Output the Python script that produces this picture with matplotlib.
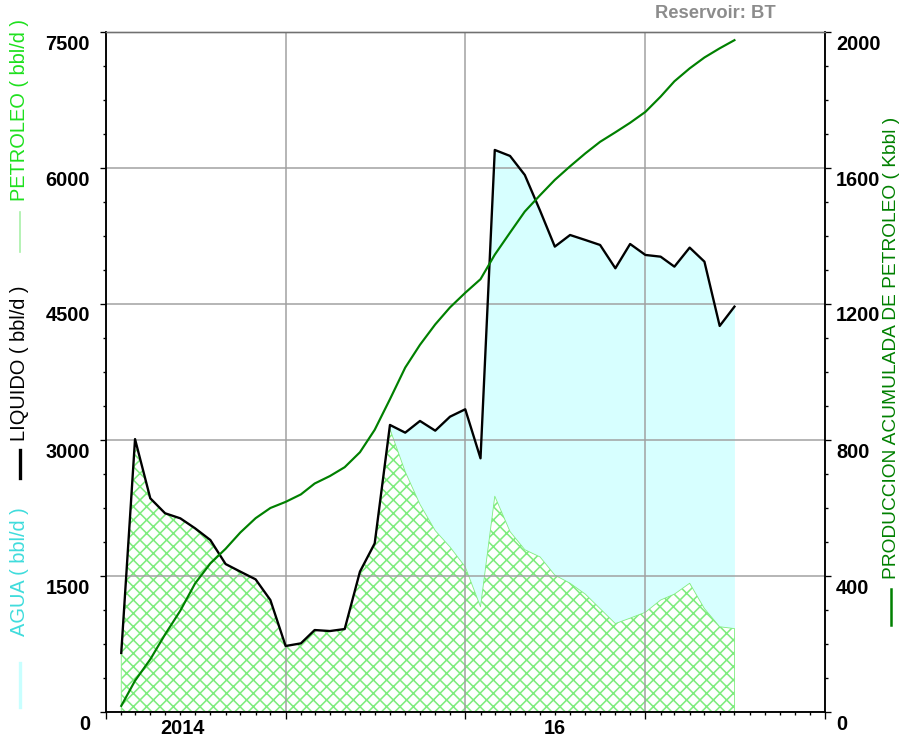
import matplotlib
matplotlib.use("Agg")
import matplotlib.pyplot as plt
import matplotlib.dates as mdates
import matplotlib.transforms as mtransforms
from matplotlib.lines import Line2D
from matplotlib.ticker import MultipleLocator, NullFormatter
import pandas as pd

# monthly data, Feb 2014 -> Jul 2017
fechas = pd.date_range("2014-02-01", periods=42, freq="MS")

liquido = [651, 3010, 2357, 2192, 2136, 2026, 1897, 1632, 1548, 1463, 1235, 728,
           757, 904, 893, 915, 1548, 1860, 3166, 3081, 3210, 3103, 3257, 3339,
           2798, 6199, 6133, 5923, 5530, 5133, 5261, 5206, 5151, 4894, 5162, 5041,
           5022, 4912, 5122, 4967, 4258, 4471]

petroleo = [651, 3010, 2357, 2192, 2136, 2026, 1897, 1632, 1548, 1463, 1235, 728,
            757, 904, 893, 915, 1548, 1860, 3120, 2650, 2290, 2000, 1820, 1600,
            1160, 2380, 1990, 1790, 1710, 1510, 1420, 1300, 1140, 975, 1035, 1100,
            1235, 1300, 1420, 1140, 940, 920]

acumulado = [18, 92, 155, 228, 298, 378, 437, 480, 528, 570, 600, 618,
             640, 672, 694, 720, 764, 830, 920, 1013, 1080, 1140, 1190, 1233,
             1273, 1345, 1410, 1472, 1520, 1565, 1605, 1643, 1677, 1705, 1733, 1765,
             1810, 1855, 1893, 1925, 1952, 1976]

rate_ticks = [0, 1500, 3000, 4500, 6000, 7500]
cum_ticks = [0, 400, 800, 1200, 1600, 2000]
year_labels = ["2014", "16"]
year_label_pos = [pd.Timestamp("2014-06-05"), pd.Timestamp("2016-07-01")]

plt.rcParams["font.family"] = ["Liberation Sans", "DejaVu Sans"]
plt.rcParams["hatch.linewidth"] = 0.95

DPI = 120
W, H = 902, 740
fig = plt.figure(figsize=(W / DPI, H / DPI), dpi=DPI)
ax = fig.add_axes([106 / W, 28 / H, 719 / W, 680 / H])

# areas
ax.fill_between(fechas, petroleo, liquido, color="#d7ffff", linewidth=0, zorder=0.8)
ax.fill_between(fechas, 0, petroleo, facecolor="white", edgecolor="#7eec7e",
                hatch="xxx", linewidth=0.5, zorder=0.9)
ax.plot(fechas, liquido, color="black", lw=1.4, zorder=3)

ax.set_xlim(pd.Timestamp("2014-01-01"), pd.Timestamp("2018-01-01"))
ax.set_ylim(0, 7500)
ax.set_yticks(rate_ticks)
ax.set_yticklabels([str(t) for t in rate_ticks], fontweight="bold")
ax.yaxis.set_minor_locator(MultipleLocator(375))
ax.xaxis.set_major_locator(mdates.YearLocator())
ax.xaxis.set_minor_locator(mdates.MonthLocator())
ax.xaxis.set_major_formatter(NullFormatter())
ax.grid(True, which="major", color="#a0a0a0", lw=0.9)

ax.tick_params(axis="y", which="major", direction="out", length=3.6, width=0.8,
               pad=6, labelsize=12)
ax.tick_params(axis="y", which="minor", direction="out", length=1.8, width=0.8)
ax.tick_params(axis="x", which="major", direction="out", length=4.2, width=0.8)
ax.tick_params(axis="x", which="minor", direction="out", length=1.8, width=0.8)

# cumulative production on right axis
ax2 = ax.twinx()
ax2.plot(fechas, acumulado, color="#008000", lw=1.3)
ax2.set_ylim(0, 2000)
ax2.set_yticks(cum_ticks)
ax2.set_yticklabels([str(t) for t in cum_ticks], fontweight="bold")
ax2.yaxis.set_minor_locator(MultipleLocator(100))
ax2.tick_params(axis="y", which="major", direction="out", length=3.6, width=0.8,
                pad=3, labelsize=12)
ax2.tick_params(axis="y", which="minor", direction="out", length=1.8, width=0.8)

for a in (ax, ax2):
    for s in ["left", "right", "bottom"]:
        a.spines[s].set_color("black")
        a.spines[s].set_linewidth(0.9)
    a.spines["top"].set_color("#707070")

# tick labels sit a bit below their ticks
offset = mtransforms.ScaledTranslation(0, -10 / DPI, fig.dpi_scale_trans)
for lab in ax.get_yticklabels() + ax2.get_yticklabels():
    lab.set_transform(lab.get_transform() + offset)

for lbl, pos in zip(year_labels, year_label_pos):
    ax.text(pos, -0.025, lbl, transform=ax.get_xaxis_transform(), ha="center",
            va="center", fontsize=12, fontweight="bold")

# side labels with their line keys
def fx(x):
    return x / W

def fy(y):
    return 1 - y / H

fig.text(fx(20), fy(110), "PETROLEO ( bbl/d )", rotation=90, ha="center", va="center",
         color="#1ee01e", fontsize=12)
fig.add_artist(Line2D([fx(20), fx(20)], [fy(212), fy(252)], color="#a8f0a8", lw=1.0))
fig.text(fx(20), fy(363), "LIQUIDO ( bbl/d )", rotation=90, ha="center", va="center",
         color="black", fontsize=12)
fig.add_artist(Line2D([fx(20), fx(20)], [fy(450), fy(478)], color="black", lw=2.0))
fig.text(fx(20), fy(572), "AGUA ( bbl/d )", rotation=90, ha="center", va="center",
         color="#3fdcdc", fontsize=12)
fig.add_artist(Line2D([fx(20), fx(20)], [fy(663), fy(707)], color="#c8ffff", lw=2.0))

fig.text(fx(891), fy(348), "PRODUCCION ACUMULADA DE PETROLEO ( Kbbl )", rotation=90,
         ha="center", va="center", color="#008000", fontsize=11.5)
fig.add_artist(Line2D([fx(891), fx(891)], [fy(589), fy(625)], color="#008000", lw=1.5))

fig.text(fx(715), fy(14), "Reservoir: BT", ha="center", va="center", color="#8c8c8c",
         fontsize=11, fontweight="bold")

fig.savefig("out.png", dpi=DPI)
